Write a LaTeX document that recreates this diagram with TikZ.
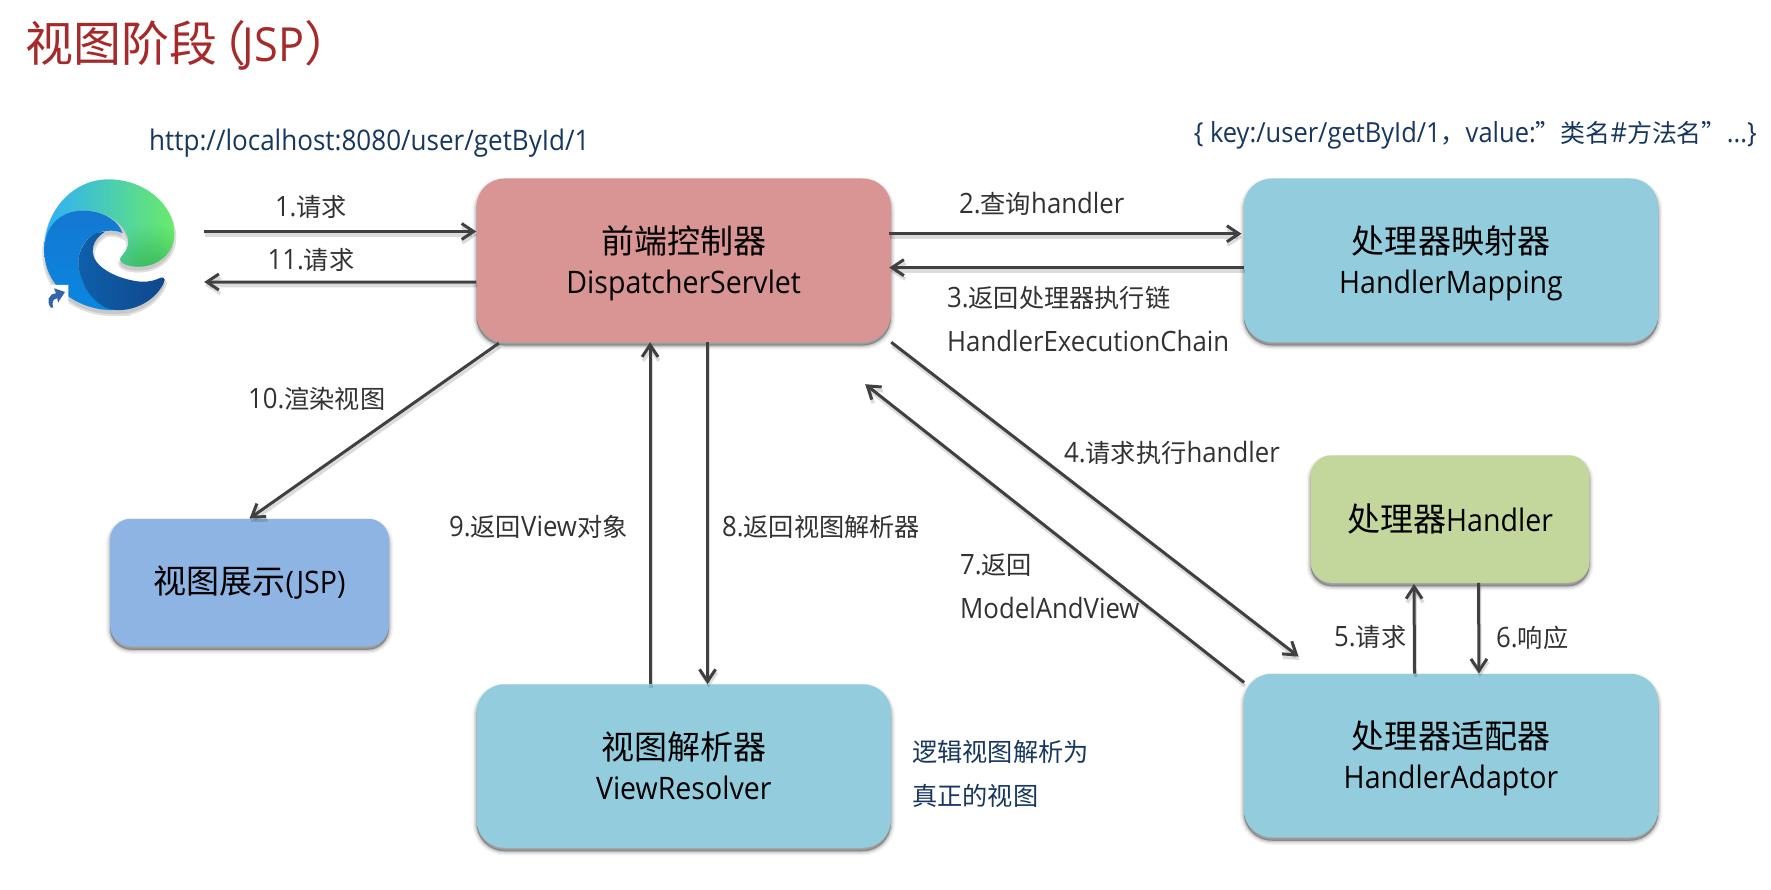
\documentclass[tikz,border=0pt]{standalone}
\usepackage{fontspec}
\usetikzlibrary{arrows.meta,calc,shadings,fadings}
\setmainfont{Open Sans}[FakeStretch=0.92]
\newfontfamily\cjkfont{Noto Sans CJK SC}[Scale=0.90]
\newfontfamily\cjkbox{Noto Sans CJK SC}[Scale=1.065]
\newfontfamily\cjktitle{Noto Sans CJK SC}[Scale=1.02]
\newcommand\zh[1]{{\cjkfont #1}}
\newcommand\bz[1]{{\cjkbox #1}}
\newcommand\tz[1]{{\cjktitle #1}}
\newcommand\dn[1]{\raisebox{-3pt}[\height][\depth]{#1}}
\definecolor{titlered}{RGB}{166,42,42}
\definecolor{navy}{RGB}{23,55,94}
\definecolor{lnk}{RGB}{64,64,64}
\definecolor{labelc}{RGB}{50,50,50}
\definecolor{boxpink}{RGB}{217,148,148}
\definecolor{boxblue}{RGB}{147,205,221}
\definecolor{boxgreen}{RGB}{195,214,155}
\definecolor{boxjsp}{RGB}{142,180,227}
\definecolor{edgeA}{RGB}{20,120,210}
\definecolor{edgeB}{RGB}{10,135,225}
\definecolor{edgeC}{RGB}{15,72,140}
\definecolor{edgeD}{RGB}{15,95,170}
\definecolor{edgeF}{RGB}{45,175,250}
\definecolor{edgeM}{RGB}{40,195,210}
\definecolor{edgeG}{RGB}{105,235,105}
\definecolor{edgeH}{RGB}{50,175,80}
\definecolor{edgeI}{RGB}{52,100,170}
\tikzfading[name=lowrad,inner color=transparent!15,outer color=transparent!100]
\tikzset{
  softshadow/.style={
    preaction={fill=black,fill opacity=.05,draw=black,draw opacity=.05,line width=8pt,transform canvas={yshift=-3.5pt}},
    preaction={fill=black,fill opacity=.07,draw=black,draw opacity=.07,line width=5pt,transform canvas={yshift=-3.5pt}},
    preaction={fill=black,fill opacity=.10,draw=black,draw opacity=.10,line width=2.5pt,transform canvas={yshift=-3.5pt}},
    preaction={fill=black,fill opacity=.12,transform canvas={yshift=-3.5pt}}},
  bigbox/.style={softshadow,inner sep=0pt,align=center,text=black,rounded corners=28pt,
    minimum width=414.5pt,minimum height=163.5pt,font=\fontsize{31}{40}\selectfont},
  smallbox/.style={softshadow,inner sep=0pt,align=center,text=black,rounded corners=21pt,
    minimum width=279pt,minimum height=127.5pt,font=\fontsize{31}{40}\selectfont},
  conn/.style={draw=lnk,line width=3pt,-{Straight Barb[length=12pt,width=16pt,line width=3pt]}},
  connshadow/.style={draw=black,draw opacity=.14,line width=3.5pt,-{Straight Barb[length=12pt,width=16pt,line width=3.5pt]},transform canvas={xshift=1pt,yshift=-3.5pt}},
  lab/.style={text=labelc,inner sep=0pt,align=left,font=\fontsize{28}{44}\selectfont},
  note/.style={text=navy,inner sep=0pt,align=left,font=\fontsize{28}{44}\selectfont},
}
\def\edgegreen{(43,240) .. controls (43,120) and (130,28) .. (235,28) .. controls (345,28) and (433,105) .. (433,190) .. controls (433,250) and (385,290) .. (325,290) .. controls (295,290) and (270,280) .. (270,268) .. controls (270,258) and (295,245) .. (295,215) .. controls (295,175) and (240,122) .. (160,122) .. controls (85,122) and (43,180) .. (43,240) -- cycle}
\def\edgemid{(43,240) .. controls (43,175) and (85,122) .. (160,122) .. controls (215,122) and (265,150) .. (278,190) .. controls (262,180) and (225,178) .. (195,192) .. controls (160,210) and (145,245) .. (145,275) .. controls (145,340) and (195,410) .. (255,420) .. controls (170,425) and (43,370) .. (43,240) -- cycle}
\def\edgedark{(200,189) .. controls (165,205) and (145,245) .. (145,275) .. controls (145,340) and (195,415) .. (255,420) .. controls (320,425) and (385,385) .. (405,330) .. controls (405,322) and (395,320) .. (385,326) .. controls (365,335) and (340,338) .. (310,332) .. controls (255,322) and (190,290) .. (188,245) .. controls (188,225) and (195,205) .. (225,185) -- cycle}
\begin{document}
\begin{tikzpicture}[x=1pt,y=-1pt]
\useasboundingbox (0,0) rectangle (1771,890);
\fill[white] (0,0) rectangle (1771,890);
\node[anchor=west,inner sep=0pt,text=titlered,font=\fontsize{47}{50}\selectfont] (title) at (25,45) {\tz{视图阶段}\kern-18pt\tz{（}\kern-4pt JSP\tz{）}};
\node[note,anchor=west,font=\fontsize{28.3}{44}\selectfont] (url) at (149,143) {http://localhost:8080/user/getById/1};
\node[note,anchor=east,font=\fontsize{27.7}{44}\selectfont] (map) at (1757,135) {\{ key:/user/getById/1\zh{，}value:\zh{”类名}\#\zh{方法名”}...\}};

\node[bigbox,fill=boxpink] (disp) at (683.75,260.25) {\dn{\bz{前端控制器}}\\\dn{DispatcherServlet}};
\node[bigbox,fill=boxblue] (hm) at (1451,260.25) {\dn{\bz{处理器映射器}}\\\dn{HandlerMapping}};
\node[smallbox,fill=boxgreen] (handler) at (1450,519) {\bz{处理器}Handler};
\node[bigbox,fill=boxblue] (ad) at (1451,755.5) {\dn{\bz{处理器适配器}}\\\dn{HandlerAdaptor}};
\node[bigbox,fill=boxblue] (vr) at (683.75,766) {\bz{视图解析器}\\ViewResolver};
\node[smallbox,fill=boxjsp] (jsp) at (249.5,582.5) {\bz{视图展示}(JSP)};
\node[inner sep=0pt,minimum width=132pt,minimum height=133pt] (browser) at (110,246.5) {};

% Edge logo
\begin{scope}[shift={(30,170)},x=.3333pt,y=-.3333pt]
  \begin{scope}[transparency group,opacity=.12,yshift=-4pt]
    \foreach \p in {\edgegreen,\edgemid,\edgedark}{\path[fill=black,draw=black,line width=4pt] \p;}
  \end{scope}
  \begin{scope}[transparency group,opacity=.10,yshift=-4pt]
    \foreach \p in {\edgegreen,\edgemid,\edgedark}{\path[fill=black] \p;}
  \end{scope}
  \shade[left color=edgeF,middle color=edgeM,right color=edgeG] \edgegreen;
  \begin{scope}
    \clip \edgegreen;
    \fill[edgeH,path fading=lowrad] (360,310) circle[radius=150];
  \end{scope}
  \shade[top color=edgeA,bottom color=edgeB] \edgemid;
  \shade[left color=edgeD,right color=edgeC] \edgedark;
  % shortcut arrow
  \fill[white] (60,345) -- (115,345) -- (115,418) -- (35,418) -- cycle;
  \fill[edgeI] (63,413) .. controls (48,395) and (55,372) .. (78,370) -- (72,355) -- (105,366) -- (84,398) -- (82,385) .. controls (70,385) and (64,397) .. (70,413) -- cycle;
\end{scope}

% connector shadows and connectors
\def\cn#1#2{%
  \draw[connshadow] #1 -- #2;
  \draw[conn] #1 -- #2;}
\cn{($(browser.east)+(28,-15)$)}{($(disp.west)+(0,-28.75)$)}
\cn{($(disp.west)+(0,22)$)}{($(browser.east)+(28,35.5)$)}
\cn{($(disp.east)+(-2,-26.5)$)}{($(hm.west)+(-2,-26.5)$)}
\cn{($(hm.west)+(0,7.4)$)}{($(disp.east)+(-2,7.4)$)}
\cn{($(disp.south west)+(22.5,1)$)}{(jsp.north)}
\cn{($(vr.north)+(-33.7,0)$)}{($(disp.south)+(-33.7,0)$)}
\cn{($(disp.south)+(23.8,0)$)}{($(vr.north)+(23.8,0)$)}
\cn{(disp.south east)}{($(ad.north west)+(55,-17)$)}
\cn{($(ad.north west)+(0.6,9)$)}{($(disp.south east)+(-26,42)$)}
\cn{($(ad.north)+(-36.5,0)$)}{($(handler.south)+(-36,1)$)}
\cn{($(handler.south)+(28.5,0)$)}{($(ad.north)+(28,0)$)}

\node[lab] (l1) at (311,207) {1.\zh{请求}};
\node[lab] (l11) at (311,260) {11.\zh{请求}};
\node[lab,anchor=west] (l2) at (959,204) {2.\zh{查询}handler};
\node[lab,anchor=west] (l3) at (947,319) {3.\zh{返回处理器执行链}\\HandlerExecutionChain};
\node[lab,anchor=west] (l10) at (248,399) {10.\zh{渲染视图}};
\node[lab,anchor=west] (l9) at (449,527) {9.\zh{返回}View\zh{对象}};
\node[lab,anchor=west] (l8) at (722,527) {8.\zh{返回视图解析器}};
\node[lab,anchor=west] (l4) at (1064,453) {4.\zh{请求执行}handler};
\node[lab,anchor=west] (l7) at (960,586) {7.\zh{返回}\\ModelAndView};
\node[lab,anchor=west] (l5) at (1334,637) {5.\zh{请求}};
\node[lab,anchor=west] (l6) at (1496,638) {6.\zh{响应}};
\node[note,anchor=west] (vn) at (912,774) {\zh{逻辑视图解析为}\\\zh{真正的视图}};
\end{tikzpicture}
\end{document}
